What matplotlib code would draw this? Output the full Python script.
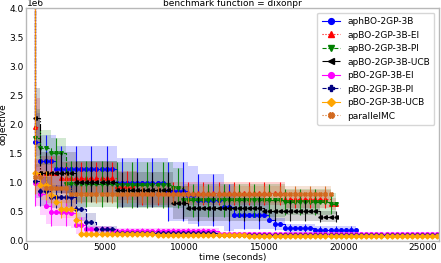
import numpy as np
import matplotlib
matplotlib.use("Agg")
import matplotlib.pyplot as plt

# ---------------- data (values in units of 1e6) ----------------
names = ["aphBO-2GP-3B", "apBO-2GP-3B-EI", "apBO-2GP-3B-PI", "apBO-2GP-3B-UCB",
         "pBO-2GP-3B-EI", "pBO-2GP-3B-PI", "pBO-2GP-3B-UCB", "parallelMC"]

# step breakpoints (time in seconds), step means and spread
aph_t = [300, 380, 650, 1900, 5700, 8900, 10100, 10800, 12300, 12900, 15300, 15600, 16300, 18000]
aph_v = [6.0, 1.70, 1.37, 1.23, 1.00, 0.85, 0.79, 0.70, 0.58, 0.45, 0.36, 0.29, 0.22, 0.19]
aph_e = [0.6, 0.50, 0.45, 0.40, 0.42, 0.50, 0.50, 0.45, 0.40, 0.25, 0.15, 0.10, 0.08, 0.07]
aph_end = 21000

ei_t = [300, 400, 650, 2100, 5700, 7000, 16000, 18900]
ei_v = [6.0, 1.96, 1.16, 1.08, 0.95, 0.82, 0.72, 0.63]
ei_e = [0.6, 0.50, 0.30, 0.28, 0.25, 0.20, 0.15, 0.10]
ei_end = 19500

pi_t = [300, 400, 820, 1450, 2400, 5600, 9000, 9600, 16000, 18900]
pi_v = [6.0, 1.77, 1.60, 1.51, 0.98, 0.96, 0.91, 0.70, 0.67, 0.64]
pi_e = [0.6, 0.50, 0.30, 0.25, 0.40, 0.40, 0.35, 0.28, 0.22, 0.18]
pi_end = 19800

ucb_t = [300, 500, 650, 900, 3150, 5700, 9000, 10000, 15000, 18300]
ucb_v = [6.0, 2.12, 1.36, 1.17, 1.02, 0.88, 0.66, 0.57, 0.52, 0.42]
ucb_e = [0.6, 0.50, 0.40, 0.35, 0.35, 0.30, 0.28, 0.22, 0.18, 0.10]
ucb_end = 19500

pei_t = [300, 380, 700, 1000, 1300, 2800, 3100, 3550, 5250, 12000]
pei_v = [6.0, 1.00, 0.80, 0.60, 0.50, 0.48, 0.27, 0.20, 0.17, 0.12]
pei_e = [0.6, 0.40, 0.35, 0.30, 0.25, 0.25, 0.15, 0.06, 0.05, 0.04]
pei_end = 26000

ppi_t = [300, 380, 830, 1460, 3040, 3550, 4200, 5700, 12000]
ppi_v = [6.0, 1.03, 0.85, 0.76, 0.55, 0.33, 0.20, 0.14, 0.10]
ppi_e = [0.6, 0.30, 0.25, 0.20, 0.20, 0.15, 0.06, 0.04, 0.03]
ppi_end = 26000

pucb_t = [300, 380, 830, 1300, 1750, 2100, 2900, 3480, 8000, 14000]
pucb_v = [6.0, 1.16, 0.96, 0.79, 0.67, 0.55, 0.36, 0.12, 0.10, 0.08]
pucb_e = [0.6, 0.30, 0.25, 0.20, 0.15, 0.15, 0.12, 0.04, 0.03, 0.03]
pucb_end = 26000

mc_t = [300, 380, 600, 1100, 2700]
mc_v = [6.0, 1.22, 1.10, 0.91, 0.80]
mc_e = [0.6, 0.40, 0.30, 0.25, 0.15]
mc_end = 19300

series = [
    (aph_t, aph_v, aph_e, aph_end),
    (ei_t, ei_v, ei_e, ei_end),
    (pi_t, pi_v, pi_e, pi_end),
    (ucb_t, ucb_v, ucb_e, ucb_end),
    (pei_t, pei_v, pei_e, pei_end),
    (ppi_t, ppi_v, ppi_e, ppi_end),
    (pucb_t, pucb_v, pucb_e, pucb_end),
    (mc_t, mc_v, mc_e, mc_end),
]

# ---------------- styles ----------------
colors = ["blue", "red", "green", "black", "magenta", "navy", "orange", "chocolate"]
markers = ["o", "^", "v", "<", "o", "P", "D", "X"]
lstyles = ["-", ":", "--", "-.", "-", "--", "-", ":"]
step = 320
scale = 1e6
fs = 6.5

fig = plt.figure(figsize=(4.41, 2.63), dpi=100)
ax = fig.add_axes([25.5 / 441, 1 - 241 / 263, 413.5 / 441, 233 / 263])

for i, ((t, v, e, tend), c, m, ls, nm) in enumerate(zip(series, colors, markers, lstyles, names)):
    t = np.asarray(t, float)
    v = np.asarray(v, float) * scale
    e = np.asarray(e, float) * scale
    # sample the step function at marker positions
    ts = np.arange(t[0], tend + 1, step)
    idx = np.searchsorted(t, ts, side="right") - 1
    vs = v[idx]
    es = e[idx]
    ax.fill_between(ts, vs - es, vs + es, step="post", color=c, alpha=0.18, lw=0)
    ax.errorbar(ts, vs, yerr=es, fmt="none", ecolor=c, elinewidth=0.8,
                errorevery=(i % 3, 3), alpha=0.9)
    ax.plot(ts, vs, drawstyle="steps-post", color=c, ls=ls, lw=0.8,
            marker=m, markersize=2.6, label=nm)

ax.set_xlim(0, 26000)
ax.set_ylim(0, 4e6)
ax.set_xticks([0, 5000, 10000, 15000, 20000, 25000])
ax.tick_params(labelsize=fs, length=0, pad=1.5)
ax.yaxis.get_offset_text().set_visible(False)
ax.text(0.003, 1.0, "1e6", transform=ax.transAxes, fontsize=fs, ha="left", va="bottom")
for s in ax.spines.values():
    s.set_color("#b8b8b8")
    s.set_linewidth(1.0)
ax.set_xlabel("time (seconds)", fontsize=fs, labelpad=1)
ax.set_ylabel("objective", fontsize=fs, labelpad=1)
ax.set_title("benchmark function = dixonpr", fontsize=fs, pad=1.0)
ax.legend(loc="upper right", fontsize=fs, handlelength=2.0, labelspacing=0.5,
          borderpad=0.5, markerscale=1.6)

fig.savefig("out.png", dpi=100)
